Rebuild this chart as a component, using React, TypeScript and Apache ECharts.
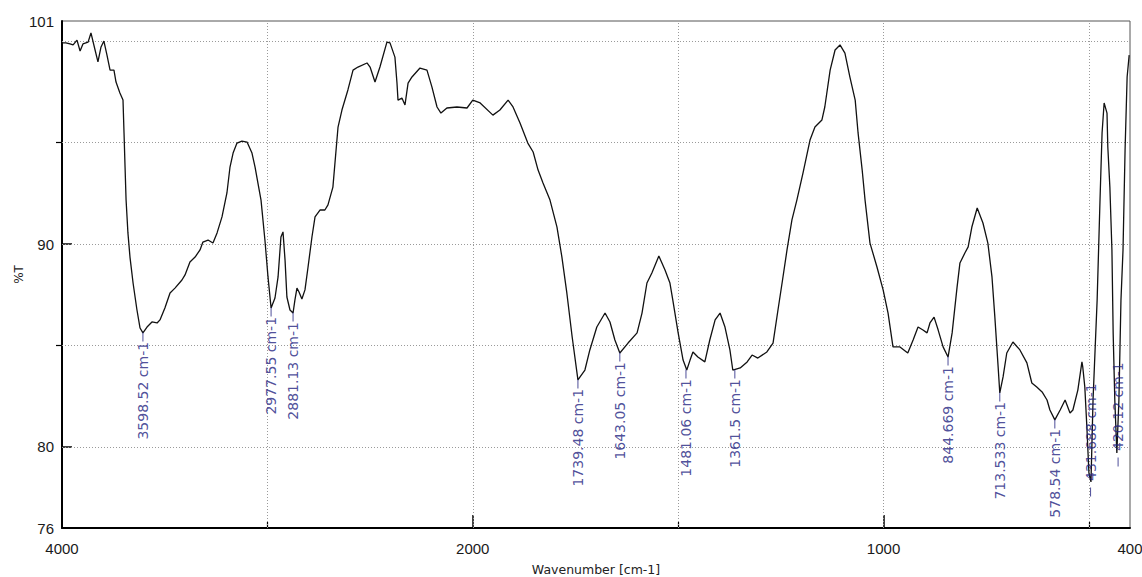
import React, { useEffect, useRef } from "react";
import * as echarts from "echarts";

// Spectrum (wavenumber in cm-1, transmittance in %T)
const wavenumbers = [
  4000, 3981, 3961, 3946, 3927, 3912, 3898, 3873, 3859, 3839,
  3825, 3810, 3796, 3781, 3766, 3747, 3737, 3718, 3703, 3698,
  3693, 3688, 3679, 3669, 3654, 3635, 3620, 3606, 3586, 3562,
  3537, 3523, 3499, 3474, 3450, 3416, 3401, 3377, 3352, 3328,
  3314, 3289, 3265, 3245, 3221, 3197, 3182, 3167, 3148, 3124,
  3099, 3075, 3060, 3046, 3031, 3012, 2997, 2982, 2963, 2948,
  2934, 2924, 2914, 2905, 2890, 2875, 2866, 2856, 2846, 2832,
  2817, 2802, 2783, 2768, 2744, 2720, 2705, 2681, 2656, 2637,
  2608, 2583, 2559, 2515, 2500, 2476, 2452, 2418, 2403, 2379,
  2369, 2364, 2345, 2330, 2315, 2296, 2257, 2223, 2199, 2174,
  2155, 2126, 2077, 2028, 2000, 1982, 1951, 1934, 1914, 1902,
  1885, 1866, 1853, 1841, 1829, 1812, 1795, 1783, 1771, 1758,
  1744, 1727, 1715, 1698, 1678, 1666, 1654, 1642, 1622, 1600,
  1588, 1576, 1564, 1547, 1532, 1520, 1513, 1500, 1488, 1479,
  1471, 1464, 1452, 1435, 1423, 1410, 1398, 1386, 1374, 1367,
  1349, 1332, 1320, 1306, 1284, 1269, 1257, 1247, 1235, 1223,
  1211, 1196, 1179, 1167, 1150, 1143, 1130, 1118, 1106, 1094,
  1082, 1069, 1062, 1052, 1045, 1033, 1016, 1001, 989, 977,
  960, 941, 928, 916, 904, 894, 887, 877, 867, 855,
  843, 833, 821, 814, 802, 794, 785, 772, 758, 746,
  736, 729, 721, 717, 709, 700, 685, 668, 651, 639,
  627, 614, 602, 595, 583, 570, 558, 546, 539, 527,
  517, 515, 510, 505, 500, 495, 490, 485, 480, 473,
  468, 463, 456, 454, 449, 444, 441, 437, 432, 427,
  422, 417, 412, 407, 402,
];

const transmittance = [
  99.92, 99.92, 99.87, 99.82, 100.06, 99.52, 99.87, 99.96, 100.41, 99.57,
  98.98, 99.72, 100.01, 99.32, 98.58, 98.58, 97.99, 97.45, 97.1, 95.48,
  93.8, 92.17, 90.55, 89.36, 88.08, 86.75, 85.86, 85.62, 85.91, 86.16,
  86.11, 86.26, 86.85, 87.59, 87.83, 88.23, 88.48, 89.12, 89.36, 89.71,
  90.1, 90.2, 90.05, 90.55, 91.34, 92.52, 93.8, 94.49, 94.98, 95.08,
  95.03, 94.49, 93.8, 93.01, 92.17, 90.2, 88.38, 86.85, 87.34, 88.38,
  90.35, 90.6, 89.21, 87.39, 86.75, 86.6, 87.24, 87.83, 87.64, 87.29,
  87.74, 88.87, 90.35, 91.34, 91.68, 91.68, 91.93, 92.81, 95.77, 96.61,
  97.6, 98.58, 98.73, 98.93, 98.73, 97.99, 98.73, 99.96, 99.92, 99.22,
  97.94, 97.1, 97.2, 96.86, 97.94, 98.24, 98.68, 98.58, 97.75, 96.76,
  96.46, 96.71, 96.76, 96.71, 97.1, 96.96, 96.36, 96.61, 97.1, 96.76,
  95.97, 94.98, 94.54, 93.65, 93.01, 92.17, 90.84, 89.36, 87.59, 85.42,
  83.3, 83.79, 84.78, 85.91, 86.6, 86.16, 85.27, 84.63, 85.12, 85.62,
  86.6, 88.08, 88.57, 89.41, 88.72, 88.08, 87.24, 85.62, 84.28, 83.79,
  84.28, 84.68, 84.43, 84.19, 85.27, 86.26, 86.6, 85.91, 84.78, 83.79,
  83.89, 84.19, 84.53, 84.38, 84.68, 85.12, 86.75, 88.08, 89.71, 91.19,
  92.17, 93.51, 95.13, 95.77, 96.12, 96.76, 98.58, 99.57, 99.82, 99.42,
  98.24, 97.1, 95.48, 93.65, 92.17, 90.05, 88.87, 87.74, 86.6, 84.93,
  84.93, 84.63, 85.27, 85.91, 85.76, 85.62, 86.11, 86.4, 85.76, 84.93,
  84.43, 85.62, 87.88, 89.07, 89.56, 89.86, 90.84, 91.78, 91.04, 90.05,
  88.38, 86.4, 83.94, 82.66, 83.45, 84.63, 85.17, 84.78, 84.14, 83.15,
  82.95, 82.71, 82.31, 81.82, 81.33, 81.82, 82.31, 81.67, 81.82, 82.8,
  84.19, 83.94, 82.95, 80.98, 78.71, 78.27, 82.31, 84.78, 87.24, 92.17,
  95.48, 96.96, 96.46, 94.79, 92.81, 89.71, 85.62, 82.31, 79.7, 82.31,
  87.24, 89.71, 94.64, 98.24, 99.32,
];

// Peak tags: text, wavenumber where the tag is drawn, %T where it is drawn
const tagTexts = [
  "3598.52 cm-1", "2977.55 cm-1", "2881.13 cm-1", "1739.48 cm-1",
  "1643.05 cm-1", "1481.06 cm-1", "1361.5 cm-1", "844.669 cm-1",
  "713.533 cm-1", "578.54 cm-1", "431.688 cm-1", "420.12 cm-1",
];
const tagWavenumbers = [3606, 2982, 2875, 1744, 1642, 1481, 1362, 843, 717, 583, 496, 429];
const tagLevels = [85.62, 86.85, 86.6, 83.3, 84.63, 83.79, 83.79, 84.43, 82.66, 81.33, 78.27, 79.75];
const tagAbove = [false, false, false, false, false, false, false, false, false, false, true, true];

// Axes
const xTickLabels = [4000, 2000, 1000, 400];
const xMajorTicks = [2000, 1000];
const xMinorTicks = [3000, 1500, 500];
const xGridLines = [3000, 2000, 1500, 1000, 500];
const yTickLabels = [101, 90, 80, 76];
const yMajorTicks = [90, 80];
const yMinorTicks = [95, 85];
const yGridLines = [100, 95, 90, 85, 80];

// Split wavenumber scale: 4000-2000 at half scale, 2000-400 at full scale
const toPos = (w: number) => (w >= 2000 ? (4000 - w) / 2 : 1000 + (2000 - w));
const toWn = (p: number) => (p <= 1000 ? 4000 - 2 * p : 3000 - p);

const TAG_COLOR = "#22227f";

export default function App() {
  const ref = useRef<HTMLDivElement>(null);

  useEffect(() => {
    if (!ref.current) return;
    const chart = echarts.init(ref.current, undefined, { renderer: "svg" });

    const spectrum = wavenumbers.map((w, i) => [toPos(w), transmittance[i]]);

    const tickFont = { fontFamily: "Liberation Sans", fontSize: 15, color: "#1a1a1a" };

    chart.setOption({
      animation: false,
      backgroundColor: "#fff",
      grid: {
        left: 62,
        right: 12,
        top: 21,
        bottom: 49,
        containLabel: false,
        outerBoundsMode: "none",
        show: true,
        borderColor: "#555",
        borderWidth: 1,
        backgroundColor: "transparent",
      },
      xAxis: [
        {
          type: "value",
          min: 0,
          max: 2600,
          position: "bottom",
          axisLine: { show: true, onZero: false, lineStyle: { color: "#000", width: 2 } },
          axisTick: {
            show: true,
            inside: true,
            length: 13,
            customValues: xMajorTicks.map(toPos),
            lineStyle: { color: "#000", width: 1.5 },
          },
          axisLabel: {
            customValues: xTickLabels.map(toPos),
            formatter: (v: number) => String(Math.round(toWn(v))),
            margin: 13,
            ...tickFont,
          },
          splitLine: { show: false },
          name: "Wavenumber [cm-1]",
          nameLocation: "middle",
          nameGap: 35,
          nameMoveOverlap: false,
          nameTextStyle: { fontFamily: "DejaVu Sans", fontSize: 12.5, color: "#222" },
        },
        {
          type: "value",
          min: 0,
          max: 2600,
          position: "bottom",
          axisLine: { show: false },
          axisTick: {
            show: true,
            inside: true,
            length: 6,
            customValues: xMinorTicks.map(toPos),
            lineStyle: { color: "#000", width: 1.2 },
          },
          axisLabel: { show: false },
          splitLine: { show: false },
        },
      ],
      yAxis: [
        {
          type: "value",
          min: 76,
          max: 101,
          position: "left",
          axisLine: { show: true, onZero: false, lineStyle: { color: "#000", width: 2 } },
          axisTick: {
            show: true,
            inside: true,
            length: 10,
            customValues: yMajorTicks,
            lineStyle: { color: "#000", width: 1.5 },
          },
          axisLabel: { customValues: yTickLabels, margin: 8, ...tickFont },
          splitLine: { show: false },
          name: "%T",
          nameLocation: "middle",
          nameGap: 37,
          nameRotate: 90,
          nameMoveOverlap: false,
          nameTextStyle: { fontFamily: "DejaVu Sans", fontSize: 12, color: "#222" },
        },
        {
          type: "value",
          min: 76,
          max: 101,
          position: "left",
          offset: 0,
          axisLine: { show: false },
          axisTick: {
            show: true,
            inside: false,
            length: 6,
            customValues: yMinorTicks,
            lineStyle: { color: "#000", width: 1.2 },
          },
          axisLabel: { show: false },
          splitLine: { show: false },
        },
      ],
      series: [
        {
          type: "line",
          name: "spectrum",
          xAxisIndex: 0,
          yAxisIndex: 0,
          data: spectrum,
          symbol: "none",
          showSymbol: false,
          silent: true,
          z: 3,
          lineStyle: { color: "#111", width: 1.3 },
          markLine: {
            silent: true,
            z: 1,
            symbol: ["none", "none"],
            label: { show: false },
            emphasis: { disabled: true },
            lineStyle: { color: "#9a9a9a", type: [1, 2], width: 1 },
            data: [
              ...yGridLines.map((v) => ({ yAxis: v })),
              ...xGridLines.map((w) => ({ xAxis: toPos(w) })),
            ],
          },
        },
        {
          type: "scatter",
          name: "tag ticks",
          xAxisIndex: 0,
          yAxisIndex: 0,
          silent: true,
          z: 4,
          symbol: "rect",
          symbolSize: [1, 9],
          itemStyle: { color: TAG_COLOR },
          data: tagWavenumbers.map((w, i) => ({
            value: [toPos(w), tagLevels[i]],
            symbolOffset: [0, tagAbove[i] ? 10 : 4],
          })),
        },
        {
          type: "scatter",
          name: "tags",
          xAxisIndex: 0,
          yAxisIndex: 0,
          silent: true,
          z: 5,
          symbol: "circle",
          symbolSize: 1,
          itemStyle: { color: "rgba(0,0,0,0)" },
          label: {
            show: true,
            position: "inside",
            rotate: 90,
            verticalAlign: "middle",
            formatter: "{b}",
            color: TAG_COLOR,
            fontFamily: "DejaVu Sans",
            fontSize: 14,
          },
          data: tagWavenumbers.map((w, i) => ({
            name: tagTexts[i],
            value: [toPos(w), tagLevels[i]],
            label: tagAbove[i]
              ? { align: "left", padding: [0, 0, 0, 1] }
              : { align: "right", padding: [0, 9, 0, 0] },
          })),
        },
      ],
    });

    return () => chart.dispose();
  }, []);

  return (
    <div
      ref={ref}
      style={{ position: "absolute", left: 0, top: 0, width: 1142, height: 577, background: "#fff" }}
    />
  );
}
